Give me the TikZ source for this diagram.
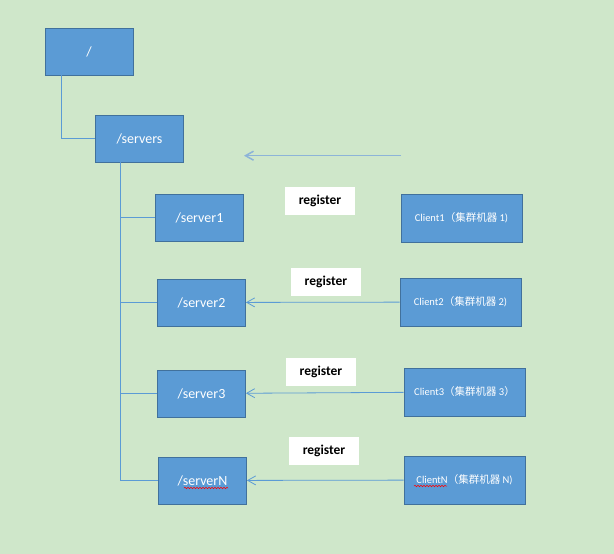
\documentclass[tikz,border=0pt]{standalone}
\usepackage{fontspec}
\setmainfont{Carlito}
\newfontfamily\cjk{Noto Sans CJK SC}
\usepackage{tikz}
\usetikzlibrary{calc}
\usetikzlibrary{arrows.meta}
\usetikzlibrary{decorations.pathmorphing}
\definecolor{bggreen}{RGB}{207,231,202}
\definecolor{boxblue}{RGB}{91,155,213}
\definecolor{boxedge}{RGB}{65,113,156}
\definecolor{paleblue}{RGB}{141,180,216}
\tikzset{
	nodestyle/.style={rectangle,draw=boxedge,line width=0.8pt,fill=boxblue,text=white,minimum width=88pt,minimum height=47pt,inner sep=0pt,font=\fontsize{14}{16}\selectfont},
	clientstyle/.style={rectangle,draw=boxedge,line width=0.8pt,fill=boxblue,text=white,minimum width=121pt,minimum height=48pt,inner sep=0pt,font=\fontsize{10.5}{12}\selectfont},
	regstyle/.style={rectangle,fill=white,minimum width=70pt,minimum height=28pt,inner sep=0pt,font=\fontsize{13.5}{15}\selectfont\bfseries},
	treeline/.style={draw=boxblue,line width=0.8pt},
	regarrow/.style={draw=boxblue,line width=0.8pt,-{Straight Barb[length=8pt,width=9pt]}},
	squiggle/.style={draw=red,line width=0.5pt,decorate,decoration={snake,amplitude=0.8pt,segment length=3pt}}
}
\newcommand{\clientlabel}[1]{Client#1{\cjk（集群机器} #1)}
\begin{document}
\begin{tikzpicture}[x=1pt,y=-1pt]
		\fill[bggreen] (0,0) rectangle (614,554);
		\useasboundingbox (0,0) rectangle (614,554);
		\node[nodestyle] (root) at (89,51.5) {/};
		\node[nodestyle] (servers) at (139.5,138.5) {/servers};
		\node[nodestyle] (server1) at (199.5,217.5) {/server1};
		\node[nodestyle] (server2) at (201.5,302.5) {/server2};
		\node[nodestyle] (server3) at (201.5,393.5) {/server3};
		\node[nodestyle] (serverN) at (202.5,480.5) {/serverN};
		\node[clientstyle] (client1) at (461.5,218) {\clientlabel{1}};
		\node[clientstyle] (client2) at (460.5,302) {\clientlabel{2}};
		\node[clientstyle] (client3) at (464.5,392) {Client3{\cjk（集群机器} 3{\cjk）}};
		\node[clientstyle] (clientN) at (464.5,480) {\clientlabel{N}};
		\node[regstyle] (reg1) at (320,201) {register};
		\node[regstyle] (reg2) at (326,281.5) {register};
		\node[regstyle] (reg3) at (321,371.5) {register};
		\node[regstyle] (regN) at (324,450.5) {register};
		\coordinate (trunk) at ([xshift=25pt]servers.south west);
		\coordinate (from) at (401,155.7);
		\coordinate (to) at (244,155.7);
		\draw[treeline] ([xshift=16.5pt]root.south west) |- (servers.west);
		\draw[treeline] (trunk) |- (serverN.west);
		\draw[treeline] (server1.west) -- (server1.west -| trunk);
		\draw[treeline] (server2.west) -- (server2.west -| trunk);
		\draw[treeline] (server3.west) -- (server3.west -| trunk);
		\draw[regarrow] (client2) -- (server2);
		\draw[regarrow] (client3) -- (server3);
		\draw[regarrow] (clientN) -- (serverN);
		\draw[regarrow,draw=paleblue,line width=1.5pt] (from) -- (to);
		\draw[squiggle] ($(serverN)+(-18.5,7.5)$) -- ($(serverN)+(25.5,7.5)$);
		\draw[squiggle] ($(clientN)+(-50.5,6)$) -- ($(clientN)+(-17.5,6)$);
		\end{tikzpicture}
\end{document}
